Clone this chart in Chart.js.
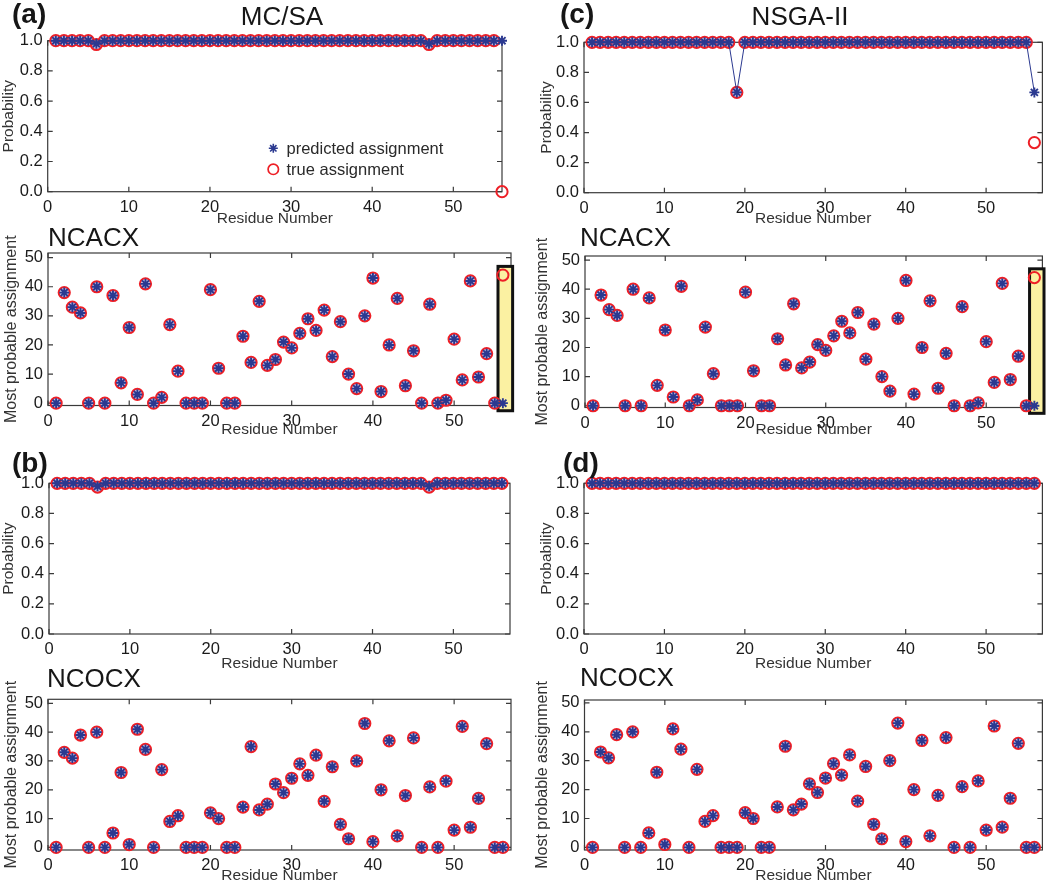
<!DOCTYPE html>
<html><head><meta charset="utf-8">
<script src="https://cdn.jsdelivr.net/npm/chart.js@4.4.1/dist/chart.umd.min.js"></script>
<style>
html,body{margin:0;padding:0;background:#fff;width:1050px;height:883px;overflow:hidden;position:relative;font-family:"Liberation Sans",Arial,sans-serif;}
canvas{position:absolute;}
.t{position:absolute;white-space:nowrap;color:#161616;line-height:1;}
.big{font-size:26px;}
.lab{font-size:28px;font-weight:bold;}
.leg{font-size:16.5px;color:#2a2a2a;}
</style></head><body>
<script>
// ---------------- data ----------------
const residues = [1,2,3,4,5,6,7,8,9,10,11,12,13,14,15,16,17,18,19,20,21,22,23,24,25,26,27,28,29,30,31,32,33,34,35,36,37,38,39,40,41,42,43,44,45,46,47,48,49,50,51,52,53,54,55,56];
const residueTicks = [0,10,20,30,40,50];
const probTicks = [0,0.2,0.4,0.6,0.8,1.0];
const assignTicks = [0,10,20,30,40,50];

// (a) MC/SA, NCACX probability
const mcsaNcacxProbPredicted = [1,1,1,1,1,0.98,1,1,1,1, 1,1,1,1,1,1,1,1,1,1, 1,1,1,1,1,1,1,1,1,1, 1,1,1,1,1,1,1,1,1,1, 1,1,1,1,1,1,0.98,1,1,1, 1,1,1,1,1,1];
const mcsaNcacxProbTrue      = [1,1,1,1,1,0.975,1,1,1,1, 1,1,1,1,1,1,1,1,1,1, 1,1,1,1,1,1,1,1,1,1, 1,1,1,1,1,1,1,1,1,1, 1,1,1,1,1,1,0.975,1,1,1, 1,1,1,1,1,0];
// (b) MC/SA, NCOCX probability
const mcsaNcocxProbPredicted = [1,1,1,1,1,0.98,1,1,1,1, 1,1,1,1,1,1,1,1,1,1, 1,1,1,1,1,1,1,1,1,1, 1,1,1,1,1,1,1,1,1,1, 1,1,1,1,1,1,0.98,1,1,1, 1,1,1,1,1,1];
const mcsaNcocxProbTrue      = [1,1,1,1,1,0.975,1,1,1,1, 1,1,1,1,1,1,1,1,1,1, 1,1,1,1,1,1,1,1,1,1, 1,1,1,1,1,1,1,1,1,1, 1,1,1,1,1,1,0.975,1,1,1, 1,1,1,1,1,1];
// (c) NSGA-II, NCACX probability
const nsgaNcacxProbPredicted = [1,1,1,1,1,1,1,1,1,1, 1,1,1,1,1,1,1,1,0.667,1, 1,1,1,1,1,1,1,1,1,1, 1,1,1,1,1,1,1,1,1,1, 1,1,1,1,1,1,1,1,1,1, 1,1,1,1,1,0.667];
const nsgaNcacxProbTrue      = [1,1,1,1,1,1,1,1,1,1, 1,1,1,1,1,1,1,1,0.667,1, 1,1,1,1,1,1,1,1,1,1, 1,1,1,1,1,1,1,1,1,1, 1,1,1,1,1,1,1,1,1,1, 1,1,1,1,1,0.333];
// (d) NSGA-II, NCOCX probability
const nsgaNcocxProbPredicted = [1,1,1,1,1,1,1,1,1,1, 1,1,1,1,1,1,1,1,1,1, 1,1,1,1,1,1,1,1,1,1, 1,1,1,1,1,1,1,1,1,1, 1,1,1,1,1,1,1,1,1,1, 1,1,1,1,1,1];
const nsgaNcocxProbTrue      = [1,1,1,1,1,1,1,1,1,1, 1,1,1,1,1,1,1,1,1,1, 1,1,1,1,1,1,1,1,1,1, 1,1,1,1,1,1,1,1,1,1, 1,1,1,1,1,1,1,1,1,1, 1,1,1,1,1,1];

// most probable assignment (same for both methods)
const ncacxPredicted = [0,38,33,31,0,40,0,37,7,26, 3,41,0,2,27,11,0,0,0,39, 12,0,0,23,14,35,13,15,21,19, 24,29,25,32,16,28,10,5,30,43, 4,20,36,6,18,0,34,0,1,22, 8,42,9,17,0,0];
const ncacxTrue      = [0,38,33,31,0,40,0,37,7,26, 3,41,0,2,27,11,0,0,0,39, 12,0,0,23,14,35,13,15,21,19, 24,29,25,32,16,28,10,5,30,43, 4,20,36,6,18,0,34,0,1,22, 8,42,9,17,0,44];
const ncocxPredicted = [0,33,31,39,0,40,0,5,26,1, 41,34,0,27,9,11,0,0,0,12, 10,0,0,14,35,13,15,22,19,24, 29,25,32,16,28,8,3,30,43,2, 20,37,4,18,38,0,21,0,23,6, 42,7,17,36,0,0];
const ncocxTrue      = [0,33,31,39,0,40,0,5,26,1, 41,34,0,27,9,11,0,0,0,12, 10,0,0,14,35,13,15,22,19,24, 29,25,32,16,28,8,3,30,43,2, 20,37,4,18,38,0,21,0,23,6, 42,7,17,36,0,0];

// highlighted misassigned residue (data units)
const highlightResidueSpan = [55.4, 57.2];
const highlightAssignSpan = [-2.6, 47];

// ---------------- styles ----------------
const FONT = '"Liberation Sans", Arial, sans-serif';
const BLUE = '#2b3990';
const RED = '#ee1f26';

function pts(ys){ return residues.map((r,i)=>({x:r, y:ys[i]})); }

const framePlugin = {
  id: 'frame',
  beforeDatasetsDraw(chart, args, opts) {
    const {ctx, chartArea: a, scales: {x, y}} = chart;
    ctx.save();
    ctx.strokeStyle = '#3a3a3a'; ctx.lineWidth = 1.2;
    ctx.strokeRect(a.left, a.top, a.right - a.left, a.bottom - a.top);
    const L = 5;
    ctx.beginPath();
    x.ticks.forEach(t => { const p = x.getPixelForValue(t.value);
      ctx.moveTo(p, a.bottom); ctx.lineTo(p, a.bottom - L);
      ctx.moveTo(p, a.top); ctx.lineTo(p, a.top + L); });
    y.ticks.forEach(t => { const p = y.getPixelForValue(t.value);
      ctx.moveTo(a.left, p); ctx.lineTo(a.left + L, p);
      ctx.moveTo(a.right, p); ctx.lineTo(a.right - L, p); });
    ctx.stroke();
    if (opts && opts.highlight) {
      const h = opts.highlight;
      const x0 = x.getPixelForValue(h.xs[0]), x1 = x.getPixelForValue(h.xs[1]);
      const y0 = y.getPixelForValue(h.ys[1]), y1 = y.getPixelForValue(h.ys[0]);
      ctx.fillStyle = '#fbf1a2';
      ctx.fillRect(x0, y0, x1 - x0, y1 - y0);
      ctx.strokeStyle = '#111'; ctx.lineWidth = 3;
      ctx.strokeRect(x0, y0, x1 - x0, y1 - y0);
    }
    ctx.restore();
  },
  afterDraw(chart, args, opts) {
    if (!opts || !opts.legend) return;
    const ctx = chart.ctx; const g = opts.legend;
    ctx.save();
    const r = 4.5; let cx = g.star[0], cy = g.star[1];
    ctx.strokeStyle = BLUE; ctx.lineWidth = 1.6; ctx.beginPath();
    for (let k = 0; k < 4; k++) { const ang = k * Math.PI / 4;
      ctx.moveTo(cx - r*Math.cos(ang), cy - r*Math.sin(ang)); ctx.lineTo(cx + r*Math.cos(ang), cy + r*Math.sin(ang)); }
    ctx.stroke();
    cx = g.circle[0]; cy = g.circle[1];
    ctx.strokeStyle = RED; ctx.lineWidth = 1.7; ctx.beginPath(); ctx.arc(cx, cy, 5.2, 0, Math.PI*2); ctx.stroke();
    ctx.restore();
  }
};
Chart.register(framePlugin);

function buildPanel(p) {
  const colLeft = p.col === 'L' ? 0 : 525;
  const top = Math.floor(p.plot.top - 22);
  const xTitleBottom = p.xTitleY + 7.75;
  const height = Math.ceil(xTitleBottom + 4 - top);
  const cv = document.createElement('canvas');
  cv.width = 525; cv.height = height;
  cv.style.left = colLeft + 'px'; cv.style.top = top + 'px';
  document.body.appendChild(cv);
  const yAxisW = p.plot.left - colLeft;
  const xAxisH = xTitleBottom - p.plot.bottom;
  const padBottom = top + height - xTitleBottom;
  const isProb = p.kind === 'prob';
  const yTitleSize = isProb ? 15.5 : 16;
  // circles holding a star inside look tinted; lone circles stay hollow
  const circleFill = p.tru.map((v, i) => Math.abs(v - p.pred[i]) < 0.05 ? 'rgba(150,150,215,0.55)' : 'rgba(255,255,255,0)');
  const datasets = [
    { label: 'predicted assignment', data: pts(p.pred), showLine: isProb, borderColor: BLUE, borderWidth: 1,
      pointStyle: 'star', pointRadius: 5, pointBorderColor: BLUE, pointBorderWidth: 1.9, pointBackgroundColor: BLUE, clip: false },
    { label: 'true assignment', data: pts(p.tru), showLine: false,
      pointStyle: 'circle', pointRadius: 5.6, pointBorderColor: RED, pointBorderWidth: 2, pointBackgroundColor: circleFill, clip: false }
  ];
  const frameOpts = {};
  if (p.highlight) frameOpts.highlight = {xs: highlightResidueSpan, ys: highlightAssignSpan};
  if (p.legend) frameOpts.legend = {star: [p.legend.star[0] - colLeft, p.legend.star[1] - top], circle: [p.legend.circle[0] - colLeft, p.legend.circle[1] - top]};
  new Chart(cv, {
    type: 'scatter',
    data: { datasets },
    options: {
      responsive: false, animation: false, devicePixelRatio: 1,
      layout: { padding: { left: 0, top: p.plot.top - top, right: colLeft + 525 - p.plot.right, bottom: padBottom } },
      plugins: { legend: { display: false }, tooltip: { enabled: false }, frame: frameOpts },
      scales: {
        x: { type: 'linear', min: 0, max: p.xMax,
          afterBuildTicks: s => { s.ticks = residueTicks.map(v => ({value: v})); },
          afterFit: s => { s.height = xAxisH; },
          grid: { display: false, drawTicks: false }, border: { display: false },
          ticks: { padding: 6, autoSkip: false, maxRotation: 0, color: '#1a1a1a', font: { family: FONT, size: 16.5 } },
          title: { display: true, text: 'Residue Number', color: '#333', padding: 0, font: { family: FONT, size: 15.5, lineHeight: 1 } } },
        y: { type: 'linear', min: p.yMin, max: p.yMax,
          afterBuildTicks: s => { s.ticks = (isProb ? probTicks : assignTicks).map(v => ({value: v})); },
          afterFit: s => { s.width = yAxisW; },
          grid: { display: false, drawTicks: false }, border: { display: false },
          ticks: { padding: 5, color: '#1a1a1a', font: { family: FONT, size: 16.5 },
            callback: v => isProb ? Number(v).toFixed(1) : String(v) },
          title: { display: true, text: isProb ? 'Probability' : 'Most probable assignment', color: '#333',
            padding: { top: p.yTitleX - colLeft - yTitleSize / 2, bottom: 0 }, font: { family: FONT, size: yTitleSize, lineHeight: 1 } } }
      }
    }
  });
}

const panels = [
  { col:'L', kind:'prob', plot:{left:47.7, right:502, top:40.7, bottom:191.7}, xMax:56, yMin:0, yMax:1, xTitleY:219, yTitleX:9,
    pred: mcsaNcacxProbPredicted, tru: mcsaNcacxProbTrue, legend:{star:[273.3,148.3], circle:[273.3,169.3]} },
  { col:'L', kind:'assign', plot:{left:48, right:511, top:253, bottom:405.5}, xMax:57, yMin:-0.8, yMax:51.6, xTitleY:430, yTitleX:12,
    pred: ncacxPredicted, tru: ncacxTrue, highlight:true },
  { col:'L', kind:'prob', plot:{left:49, right:510, top:483.3, bottom:634}, xMax:57, yMin:0, yMax:1, xTitleY:664, yTitleX:9,
    pred: mcsaNcocxProbPredicted, tru: mcsaNcocxProbTrue },
  { col:'L', kind:'assign', plot:{left:48, right:511, top:699.3, bottom:850}, xMax:57, yMin:-0.9, yMax:51.4, xTitleY:876, yTitleX:12,
    pred: ncocxPredicted, tru: ncocxTrue },
  { col:'R', kind:'prob', plot:{left:584, right:1045, top:42.3, bottom:192.7}, xMax:57, yMin:0, yMax:1, xTitleY:219, yTitleX:547,
    pred: nsgaNcacxProbPredicted, tru: nsgaNcacxProbTrue },
  { col:'R', kind:'assign', plot:{left:585, right:1046.5, top:256, bottom:407.5}, xMax:57, yMin:-0.6, yMax:51.4, xTitleY:430, yTitleX:543,
    pred: ncacxPredicted, tru: ncacxTrue, highlight:true },
  { col:'R', kind:'prob', plot:{left:584, right:1045, top:483.3, bottom:634}, xMax:57, yMin:0, yMax:1, xTitleY:664, yTitleX:547,
    pred: nsgaNcocxProbPredicted, tru: nsgaNcocxProbTrue },
  { col:'R', kind:'assign', plot:{left:584.5, right:1045, top:700, bottom:850}, xMax:57, yMin:-0.9, yMax:51, xTitleY:876, yTitleX:543,
    pred: ncocxPredicted, tru: ncocxTrue }
];
panels.forEach(buildPanel);

// ---------------- text ----------------
const texts = [
  {t:'(a)', cls:'lab', left:12, top:0},
  {t:'MC/SA', cls:'big', cx:282, top:3},
  {t:'(c)', cls:'lab', left:560, top:0},
  {t:'NSGA-II', cls:'big', cx:800, top:3},
  {t:'NCACX', cls:'big', left:48, top:224},
  {t:'NCACX', cls:'big', left:580, top:224},
  {t:'(b)', cls:'lab', left:12, top:449},
  {t:'(d)', cls:'lab', left:563, top:449},
  {t:'NCOCX', cls:'big', left:47, top:665},
  {t:'NCOCX', cls:'big', left:580, top:664},
  {t:'predicted assignment', cls:'leg', left:286.5, top:140},
  {t:'true assignment', cls:'leg', left:286.5, top:161}
];
texts.forEach(o => {
  const d = document.createElement('div');
  d.className = 't ' + o.cls; d.textContent = o.t;
  d.style.top = o.top + 'px';
  if (o.cx !== undefined) { d.style.left = o.cx + 'px'; d.style.transform = 'translateX(-50%)'; }
  else d.style.left = o.left + 'px';
  document.body.appendChild(d);
});
</script>
</body></html>
